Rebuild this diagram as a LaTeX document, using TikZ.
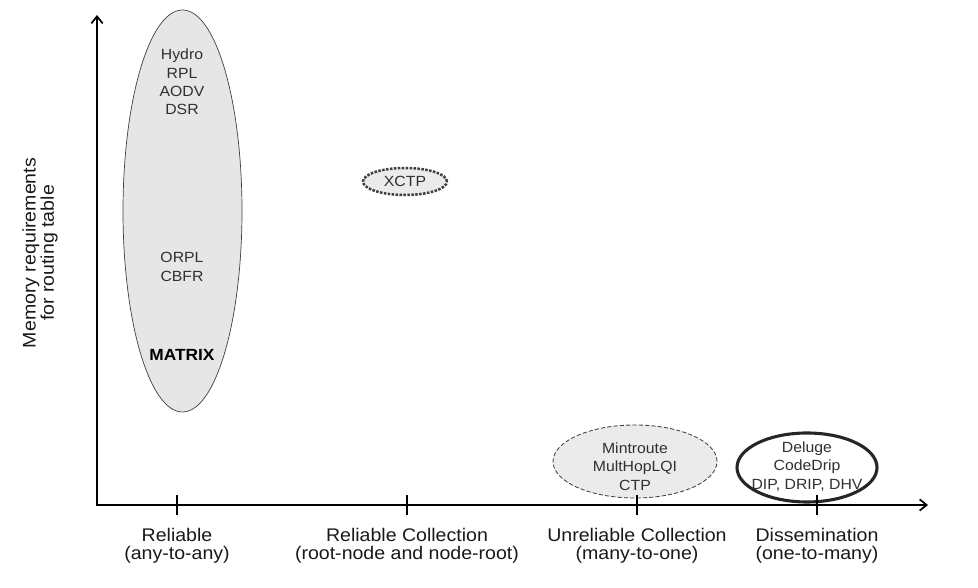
\documentclass[tikz,border=0pt]{standalone}
\usepackage{fontspec}
\setmainfont{Liberation Sans}[FakeStretch=1.07]
\usetikzlibrary{shapes.geometric,arrows.meta}
\definecolor{regiongray}{HTML}{E6E6E6}
\definecolor{ctpgray}{HTML}{EBEBEB}
\definecolor{edgegray}{HTML}{404040}
\definecolor{protogray}{HTML}{303030}

\begin{document}
\begin{tikzpicture}[
  axis/.style={line width=1.2pt, {Straight Barb[length=5pt,width=8pt]}-{Straight Barb[length=5pt,width=8pt]}},
  ticklin/.style={line width=1.2pt},
  cls/.style={font=\fontsize{13}{13.1}\selectfont, align=center, text=black!90},
  proto/.style={font=\fontsize{10.5}{13}\selectfont, align=center, text=protogray, inner sep=0pt},
  region/.style={ellipse, inner sep=0pt},
]
\useasboundingbox (0,0) rectangle (24.45,14.7);

% ---- Reliable (any-to-any) region ----
\node[region, draw=edgegray, line width=0.5pt, fill=regiongray,
      minimum width=2.975cm, minimum height=10.05cm] (anyany) at (4.5625,9.425) {};
\node[proto] (dvrouting) at (4.55,12.65) {Hydro\\RPL\\AODV\\DSR};
\node[proto] (opprouting) at (4.55,8.025) {ORPL\\CBFR};
\node[proto, font=\fontsize{11.5}{13}\selectfont\bfseries, text=black] (matrix)
  at (4.55,5.825) {MATRIX};

% ---- Reliable collection ----
\node[region, draw=edgegray, line width=1.8pt, densely dotted, fill=ctpgray,
      minimum width=2.1cm, minimum height=0.675cm, font=\fontsize{10.5}{13}\selectfont,
      text=protogray] (xctp) at (10.125,10.1625) {XCTP};

% ---- Unreliable collection ----
\node[region, draw=edgegray, line width=0.6pt, dash pattern=on 3pt off 1.5pt,
      fill=ctpgray, minimum width=4.1cm, minimum height=1.825cm] (manyone)
  at (15.875,3.1625) {};
\node[proto] (collect) at (15.875,3.0375) {Mintroute\\MultHopLQI\\CTP};

% ---- Dissemination ----
\node[region, draw=black!85, line width=2.2pt, fill=white,
      minimum width=3.5cm, minimum height=1.725cm] (onemany) at (20.175,3.0125) {};
\node[proto] (dissem) at (20.175,3.0375) {Deluge\\CodeDrip\\DIP, DRIP, DHV};

% ---- Axes ----
\coordinate (origin) at (2.425,2.075);
\coordinate (ytop) at (2.425,14.325);
\coordinate (xend) at (23.2,2.075);
\draw[axis] (ytop) -- (origin) -- (xend);
\node[cls, rotate=90] (ylabel) at (1.0,8.375) {Memory requirements\\for routing table};

% ---- Ticks and traffic classes ----
\foreach \x/\name/\first/\second in {
    4.425/rel/Reliable/{(any-to-any)},
    10.175/relcol/Reliable Collection/{(root-node and node-root)},
    15.925/unrel/Unreliable Collection/{(many-to-one)},
    20.425/diss/Dissemination/{(one-to-many)}}{
  \draw[ticklin] (\x,1.825) coordinate (\name lo) -- (\x,2.325) coordinate (\name hi);
  \node[cls] (\name) at (\x,1.05) {\first\\\second};
}

\end{tikzpicture}
\end{document}
